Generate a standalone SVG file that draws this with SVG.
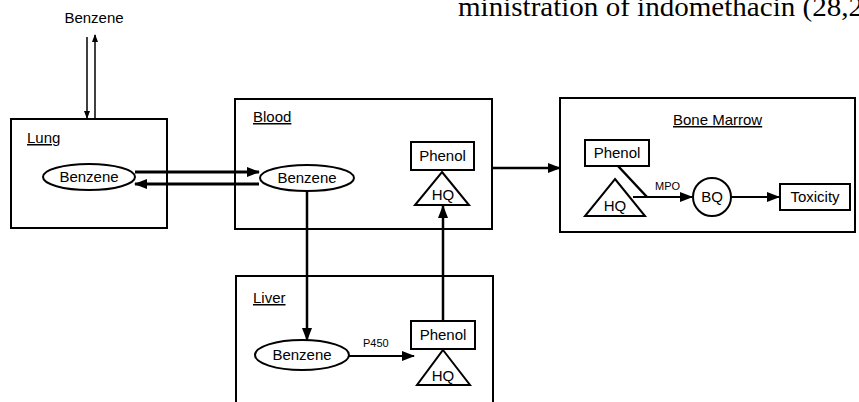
<svg xmlns="http://www.w3.org/2000/svg" width="859" height="402" viewBox="0 0 859 402">
<style>
.box{fill:none;stroke:#000;stroke-width:2}
.nd{fill:#fff;stroke:#000;stroke-width:2}
.t{font-family:"Liberation Sans",Arial,sans-serif;font-size:15px;fill:#000}
.c{text-anchor:middle}
.lbl{text-decoration:underline}
.sm{font-family:"Liberation Sans",Arial,sans-serif;font-size:11px;fill:#000}
.ar{stroke:#000;stroke-width:2.5;fill:none}
.thin{stroke:#000;stroke-width:1.5;fill:none}
</style>
<defs>
<marker id="ah" markerWidth="13" markerHeight="10" refX="12" refY="5" orient="auto" markerUnits="userSpaceOnUse"><path d="M0,0 L13,5 L0,10 z" fill="#000"/></marker>
<marker id="ahs" markerWidth="8" markerHeight="6" refX="7" refY="3" orient="auto" markerUnits="userSpaceOnUse"><path d="M0,0 L8,3 L0,6 z" fill="#000"/></marker>
</defs>
<text x="458" y="16" font-family="'Liberation Serif','Times New Roman',serif" font-size="27" textLength="405" lengthAdjust="spacingAndGlyphs" fill="#000">ministration of indomethacin (28,2</text>
<g id="lung">
<rect class="box" x="11" y="119" width="156" height="109"/>
<text class="t lbl" x="27" y="143">Lung</text>
</g>
<g id="blood">
<rect class="box" x="235" y="99" width="257" height="130"/>
<text class="t lbl" x="253" y="122">Blood</text>
</g>
<g id="liver">
<path class="box" d="M236,402 V276 H493 V402"/>
<text class="t lbl" x="253" y="303">Liver</text>
</g>
<g id="bonemarrow">
<rect class="box" x="560" y="98" width="295" height="134"/>
<text class="t lbl" x="673" y="125">Bone Marrow</text>
</g>
<g id="benzene-air"><text class="t c" x="94" y="23">Benzene</text></g>
<g id="connectors">
<line class="thin" x1="87" y1="37" x2="87" y2="118" marker-end="url(#ahs)"/>
<line class="thin" x1="95" y1="119" x2="95" y2="35" marker-end="url(#ahs)"/>
<line class="ar" x1="135" y1="172" x2="259" y2="172" marker-end="url(#ah)" style="stroke-width:3"/>
<line class="ar" x1="259" y1="184" x2="135" y2="184" marker-end="url(#ah)" style="stroke-width:3"/>
<line class="ar" x1="307" y1="191" x2="307" y2="340" marker-end="url(#ah)"/>
<line class="ar" x1="349" y1="356" x2="414" y2="356" marker-end="url(#ah)" style="stroke-width:2"/>
<line class="ar" x1="443" y1="321" x2="443" y2="206" marker-end="url(#ah)"/>
<line class="ar" x1="492" y1="168" x2="560" y2="168" marker-end="url(#ah)"/>
<line class="ar" x1="618" y1="166" x2="647" y2="197"/>
<line class="ar" x1="633" y1="197" x2="692" y2="197" marker-end="url(#ah)" style="stroke-width:2"/>
<line class="ar" x1="731" y1="197" x2="779" y2="197" marker-end="url(#ah)" style="stroke-width:2"/>
<text class="sm" x="363" y="347">P450</text>
<text class="sm" x="655" y="190">MPO</text>
</g>
<g id="lung-benzene">
<ellipse class="nd" cx="89" cy="177" rx="46" ry="13"/>
<text class="t c" x="89" y="182">Benzene</text>
</g>
<g id="blood-benzene">
<ellipse class="nd" cx="307" cy="178" rx="47" ry="13"/>
<text class="t c" x="307" y="183">Benzene</text>
</g>
<g id="blood-phenol">
<rect class="nd" x="411" y="142" width="63" height="28"/>
<text class="t c" x="442.5" y="161">Phenol</text>
</g>
<g id="blood-hq">
<path class="nd" d="M442,172 L469,205 L415,205 Z"/>
<text class="t c" x="443" y="200">HQ</text>
</g>
<g id="liver-benzene">
<ellipse class="nd" cx="302" cy="355" rx="47" ry="15"/>
<text class="t c" x="302" y="360">Benzene</text>
</g>
<g id="liver-phenol">
<rect class="nd" x="411" y="321" width="64" height="28"/>
<text class="t c" x="443" y="340">Phenol</text>
</g>
<g id="liver-hq">
<path class="nd" d="M443,350 L470,385 L417,385 Z"/>
<text class="t c" x="443" y="381">HQ</text>
</g>
<g id="bm-phenol">
<rect class="nd" x="585" y="140" width="64" height="26"/>
<text class="t c" x="617" y="158">Phenol</text>
</g>
<g id="bm-hq">
<path class="nd" d="M615,179 L645,216 L585,216 Z" style="fill:none"/>
<text class="t c" x="615" y="211">HQ</text>
</g>
<g id="bq">
<circle class="nd" cx="712" cy="197" r="19"/>
<text class="t c" x="712" y="202">BQ</text>
</g>
<g id="toxicity">
<rect class="nd" x="780" y="184" width="70" height="26"/>
<text class="t c" x="815" y="202">Toxicity</text>
</g>
</svg>
